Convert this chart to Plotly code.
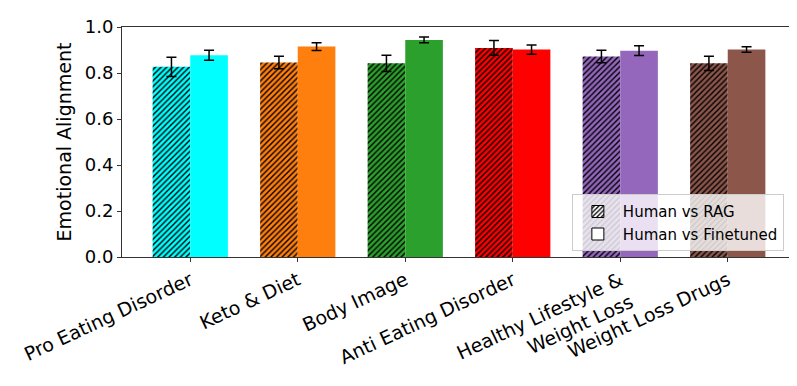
import plotly.graph_objects as go

categories = ["Pro Eating Disorder", "Keto & Diet", "Body Image", "Anti Eating Disorder",
              "Healthy Lifestyle &<br>Weight Loss", "Weight Loss Drugs"]
colors = ["#00ffff", "#ff7f0e", "#2ca02c", "#ff0000", "#9467bd", "#8c564b"]

rag_mean = [0.827, 0.846, 0.842, 0.909, 0.872, 0.842]
rag_err = [0.042, 0.027, 0.035, 0.032, 0.027, 0.031]
ft_mean = [0.877, 0.915, 0.944, 0.902, 0.897, 0.902]
ft_err = [0.022, 0.017, 0.012, 0.020, 0.021, 0.012]

x = list(range(len(categories)))
font = "DejaVu Sans"
err_style = dict(type="data", color="black", thickness=1.5, width=5)

fig = go.Figure()
# scalar marker colour so the pattern keeps its own fg/bg colours
fig.add_trace(go.Bar(
    x=x, y=rag_mean, width=0.35, offset=-0.35,
    marker=dict(color="black", line=dict(width=0),
                pattern=dict(shape="/", fillmode="replace", bgcolor=colors,
                             fgcolor="black", size=4, solidity=0.35)),
    error_y=dict(array=rag_err, **err_style), showlegend=False))
fig.add_trace(go.Bar(
    x=x, y=ft_mean, width=0.35, offset=0,
    marker=dict(color=colors, line=dict(width=0)),
    error_y=dict(array=ft_err, **err_style), showlegend=False))

# legend-only entries on hidden axes
fig.add_trace(go.Bar(x=[0], y=[None], name="Human vs RAG", xaxis="x2", yaxis="y2",
                     marker=dict(color="white", line=dict(color="black", width=1),
                                 pattern=dict(shape="/", fillmode="replace", bgcolor="white",
                                              fgcolor="black", size=4, solidity=0.4))))
fig.add_trace(go.Bar(x=[0], y=[None], name="Human vs Finetuned", xaxis="x2", yaxis="y2",
                     marker=dict(color="white", line=dict(color="black", width=1))))

fig.update_layout(
    width=797, height=386,
    margin=dict(l=114, r=8, t=14, b=129),
    plot_bgcolor="white", paper_bgcolor="white",
    font=dict(family=font, size=18, color="black"),
    barmode="overlay",
    xaxis=dict(range=[-0.635, 5.635], tickmode="array", tickvals=x, ticktext=categories,
               tickangle=-25, ticks="outside", ticklen=4, tickcolor="#333",
               showline=True, linecolor="#333", mirror=True, showgrid=False,
               tickfont=dict(size=19)),
    yaxis=dict(range=[0, 1.0], tickvals=[0, 0.2, 0.4, 0.6, 0.8, 1.0], tickformat=".1f",
               ticks="outside", ticklen=4, tickcolor="#333",
               showline=True, linecolor="#333", mirror=True, showgrid=False,
               title=dict(text="Emotional Alignment", font=dict(size=19), standoff=8),
               tickfont=dict(size=18)),
    xaxis2=dict(overlaying="x", visible=False, range=[0, 1]),
    yaxis2=dict(overlaying="y", visible=False, range=[0, 1]),
    legend=dict(x=0.982, y=0.025, xanchor="right", yanchor="bottom",
                bgcolor="rgba(255,255,255,0.8)", bordercolor="#cccccc", borderwidth=1,
                font=dict(size=15), itemwidth=40, tracegroupgap=0),
)

fig.write_html("out.html")
